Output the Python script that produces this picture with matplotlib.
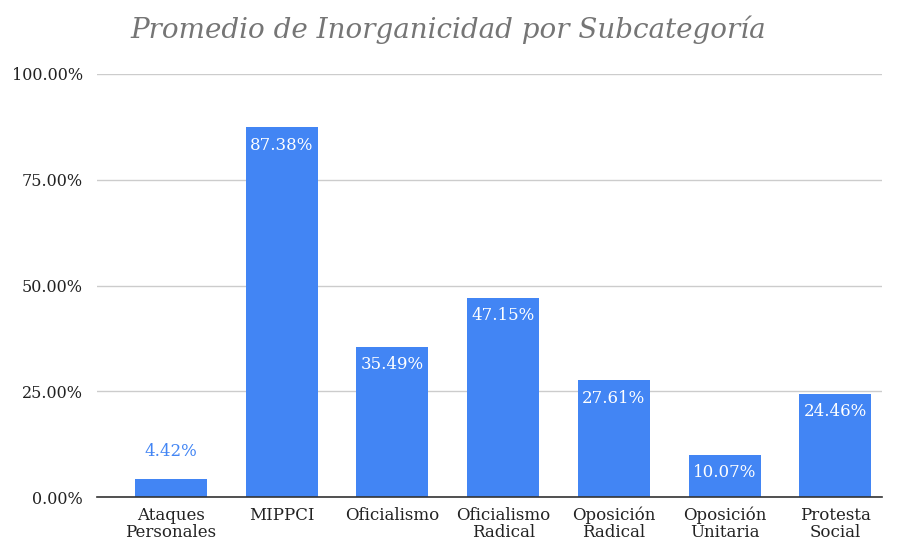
import matplotlib.pyplot as plt

categories = ["Ataques\nPersonales", "MIPPCI", "Oficialismo", "Oficialismo\nRadical",
              "Oposición\nRadical", "Oposición\nUnitaria", "Protesta\nSocial"]
values = [4.42, 87.38, 35.49, 47.15, 27.61, 10.07, 24.46]
yticks = [0, 25, 50, 75, 100]

blue = "#4285f4"
plt.rcParams["font.family"] = ["DejaVu Serif"]

fig = plt.figure(figsize=(8.97, 5.44), dpi=100)
ax = fig.add_axes([0.108, 0.086, 0.875, 0.778])

x = range(len(categories))
bars = ax.bar(x, values, width=0.65, color=blue, zorder=3)

for b, v in zip(bars, values):
    cx = b.get_x() + b.get_width() / 2
    if v < 8:
        ax.text(cx, v + 4.3, f"{v:.2f}%", ha="center", va="bottom",
                color=blue, fontsize=12)
    else:
        ax.text(cx, v - 2.2, f"{v:.2f}%", ha="center", va="top",
                color="white", fontsize=12)

ax.set_xlim(-0.67, len(categories) - 0.58)
ax.set_ylim(0, 100)
ax.set_yticks(yticks)
ax.set_yticklabels([f"{t:.2f}%" for t in yticks], fontsize=11.5, color="#222222")
ax.set_xticks(list(x))
ax.set_xticklabels(categories, fontsize=12, color="#222222", linespacing=1.0)
ax.tick_params(length=0)
ax.tick_params(axis="x", pad=7)
ax.tick_params(axis="y", pad=10)

ax.grid(axis="y", color="#cccccc", linewidth=1, zorder=0)
for s in ["top", "right", "left"]:
    ax.spines[s].set_visible(False)
ax.spines["bottom"].set_color("#333333")
ax.spines["bottom"].set_linewidth(1.2)
ax.spines["bottom"].set_zorder(4)

fig.text(0.5, 0.945, "Promedio de Inorganicidad por Subcategoría", ha="center",
         va="center", fontsize=20, style="italic", color="#757575")

fig.savefig("out.png", dpi=100)
